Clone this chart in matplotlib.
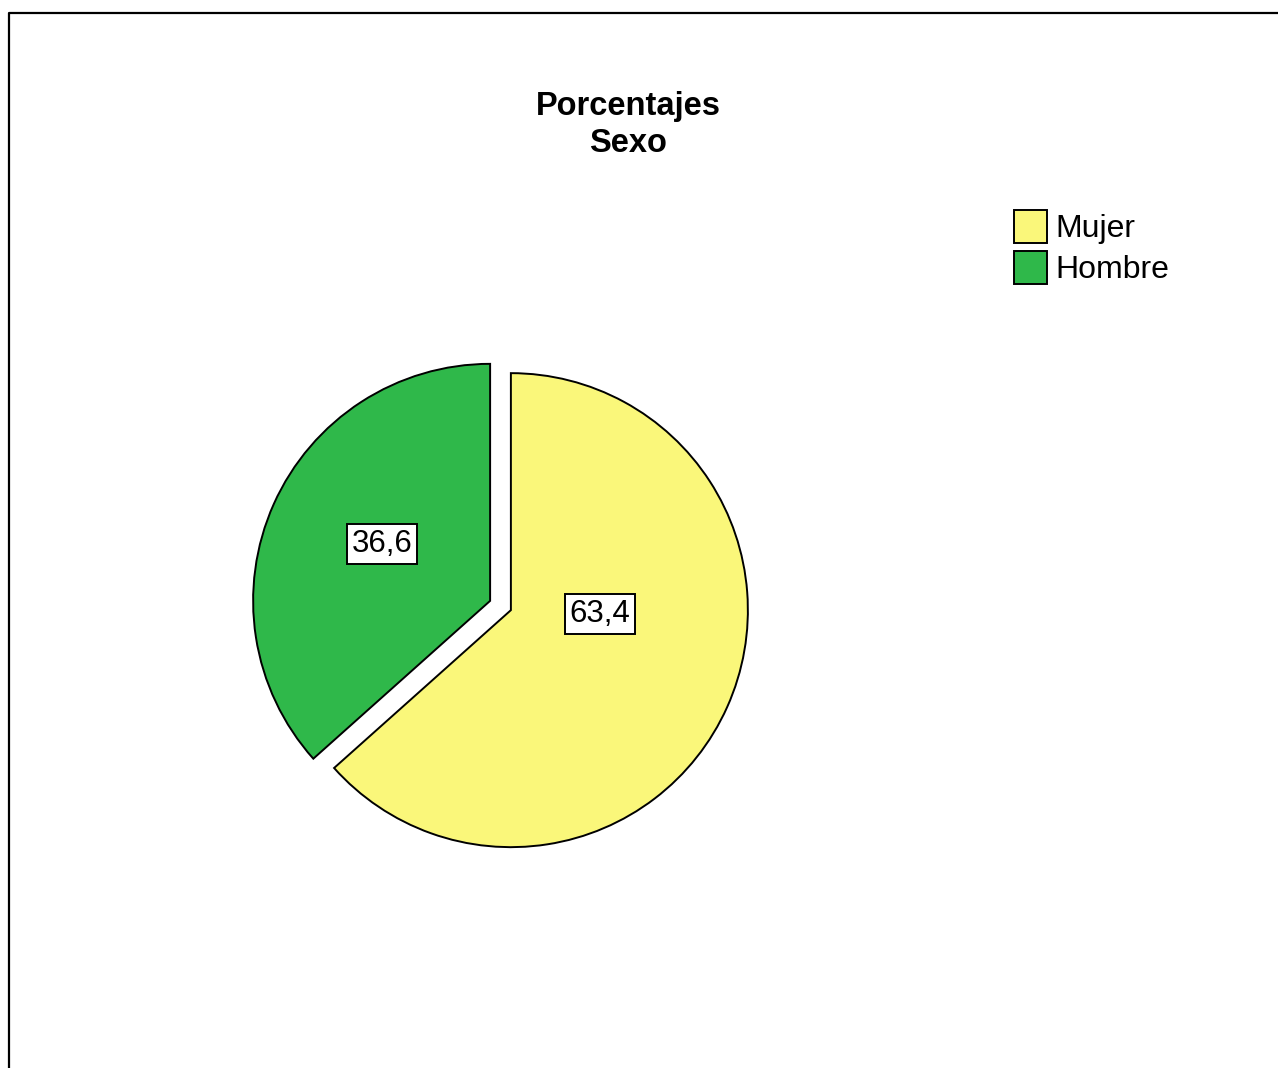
import matplotlib
matplotlib.use("Agg")
import matplotlib.pyplot as plt
from matplotlib.lines import Line2D

# data
categories = ["Mujer", "Hombre"]
percentages = [63.4, 36.6]
colors = ["#FAF77A", "#2FB84A"]

plt.rcParams['font.family'] = ['Liberation Sans', 'DejaVu Sans']

W, H = 1278, 1068
fig = plt.figure(figsize=(W / 100, H / 100), dpi=100)
fig.patch.set_facecolor("white")

# pie axes: centre at (500.5, 605.5) px, radius 237 px
cx, cy, r_px = 500.5, 605.5, 237.0
half = 300.0
ax = fig.add_axes([(cx - half) / W, (H - cy - half) / H, 2 * half / W, 2 * half / H])

wedges, texts, autotexts = ax.pie(
    percentages, colors=colors, startangle=90, counterclock=False,
    explode=[0.048, 0.048], radius=1.0, center=(0, 0), frame=False,
    autopct=lambda p: f"{p:.1f}".replace(".", ","),
    wedgeprops=dict(edgecolor="black", linewidth=1.4),
    textprops=dict(fontsize=22.5, color="black"))

# pie() resets the limits, so set them afterwards
lim = half / r_px
ax.set_xlim(-lim, lim)
ax.set_ylim(-lim, lim)
ax.set_aspect("equal")
ax.axis("off")

# label placement (data units, relative to pie centre)
label_xy = [(0.42, -0.036), (-0.50, 0.26)]
for t, (lx, ly) in zip(autotexts, label_xy):
    t.set_position((lx, ly))
    t.set_bbox(dict(boxstyle="square,pad=0.15", fc="white", ec="black", lw=1.4))

# title
fig.text(628 / W, 1 - 125 / H, "Porcentajes\nSexo", ha="center", va="center",
         fontsize=23.5, fontweight="bold", linespacing=1.22)

# legend
fig.legend(wedges, categories, loc="upper left",
           bbox_to_anchor=(1014 / W, 1 - 210 / H), frameon=False,
           fontsize=23, borderpad=0, borderaxespad=0,
           handlelength=1.03, handleheight=1.21, handletextpad=0.28,
           labelspacing=0.2)

# outer frame (left and top edges visible)
fig.add_artist(Line2D([9 / W, 9 / W, 1.0], [0.0, 1 - 13 / H, 1 - 13 / H],
                      transform=fig.transFigure, color="black", lw=1.6))

fig.savefig("out.png", dpi=100)
